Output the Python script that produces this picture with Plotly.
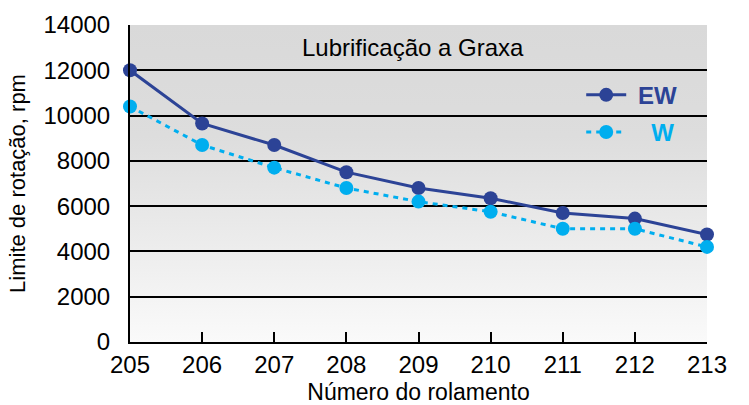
import plotly.graph_objects as go

bearing_numbers = [205, 206, 207, 208, 209, 210, 211, 212, 213]
ew_speeds = [12000, 9650, 8700, 7500, 6800, 6350, 5700, 5450, 4750]
w_speeds = [10400, 8700, 7700, 6800, 6200, 5750, 5000, 5000, 4200]
y_ticks = [0, 2000, 4000, 6000, 8000, 10000, 12000, 14000]

EW_COLOR = "#2C4396"
W_COLOR = "#00AEEF"
FONT = "Liberation Sans, Arial, Helvetica, sans-serif"
NB = "\u00a0"

fig = go.Figure()
fig.add_trace(go.Scatter(
    x=bearing_numbers, y=ew_speeds, mode="lines+markers",
    name=f"{NB}<span style='color:{EW_COLOR}'><b>EW</b></span>",
    line=dict(color=EW_COLOR, width=3),
    marker=dict(color=EW_COLOR, size=14),
    cliponaxis=False, legendgroup="ew",
))
fig.add_trace(go.Scatter(
    x=bearing_numbers, y=w_speeds, mode="lines+markers",
    name=f"{NB*3}<span style='color:{W_COLOR}'><b>W</b></span>",
    line=dict(color=W_COLOR, width=3, dash="5px,5px"),
    marker=dict(color=W_COLOR, size=14),
    cliponaxis=False, legendgroup="w",
))

grad_svg = (
    "data:image/svg+xml;utf8,"
    "<svg xmlns='http://www.w3.org/2000/svg' width='10' height='100' preserveAspectRatio='none'>"
    "<defs><linearGradient id='g' x1='0' y1='0' x2='0' y2='1'>"
    "<stop offset='0' stop-color='%23D9D9D9'/>"
    "<stop offset='0.35' stop-color='%23DDDDDD'/>"
    "<stop offset='1' stop-color='%23FAFAFA'/>"
    "</linearGradient></defs>"
    "<rect width='10' height='100' fill='url(%23g)'/></svg>"
)

fig.update_layout(
    width=749, height=405,
    margin=dict(l=130, r=42, t=25, b=63),
    paper_bgcolor="white",
    plot_bgcolor="rgba(0,0,0,0)",
    font=dict(family=FONT, size=22, color="black"),
    images=[dict(
        source=grad_svg, xref="x domain", yref="y domain",
        x=0, y=1, sizex=1, sizey=1, sizing="stretch",
        xanchor="left", yanchor="top", layer="below",
    )],
    showlegend=True,
    legend=dict(
        x=0.782, y=0.72, xanchor="left", yanchor="middle",
        bgcolor="rgba(0,0,0,0)", font=dict(size=24, family=FONT),
        tracegroupgap=3, itemwidth=40,
    ),
    xaxis=dict(
        range=[205, 213], tickvals=bearing_numbers, automargin=False,
        showgrid=False, zeroline=False,
        showline=True, linecolor="black", linewidth=2,
        ticks="inside", ticklen=10, tickwidth=2, tickcolor="black",
        tickfont=dict(size=24),
        title=dict(text="Número do rolamento", font=dict(size=23), standoff=10),
    ),
    yaxis=dict(
        range=[0, 14000], tickvals=y_ticks, tickformat="d", automargin=False,
        showgrid=True, gridcolor="black", gridwidth=1.5,
        zeroline=False, showline=True, linecolor="black", linewidth=2,
        ticks="", tickfont=dict(size=24), ticklabelstandoff=13,
        title=dict(text="Limite de rotação, rpm", font=dict(size=22), standoff=12),
    ),
    annotations=[dict(
        text="Lubrificação a Graxa", xref="x domain", yref="y",
        x=0.49, y=13000, showarrow=False, font=dict(size=24),
    )],
)

fig.write_html(
    "out.html",
    config={"displayModeBar": False},
    post_script="document.body.style.margin='0px'; document.body.style.overflow='hidden';",
)
